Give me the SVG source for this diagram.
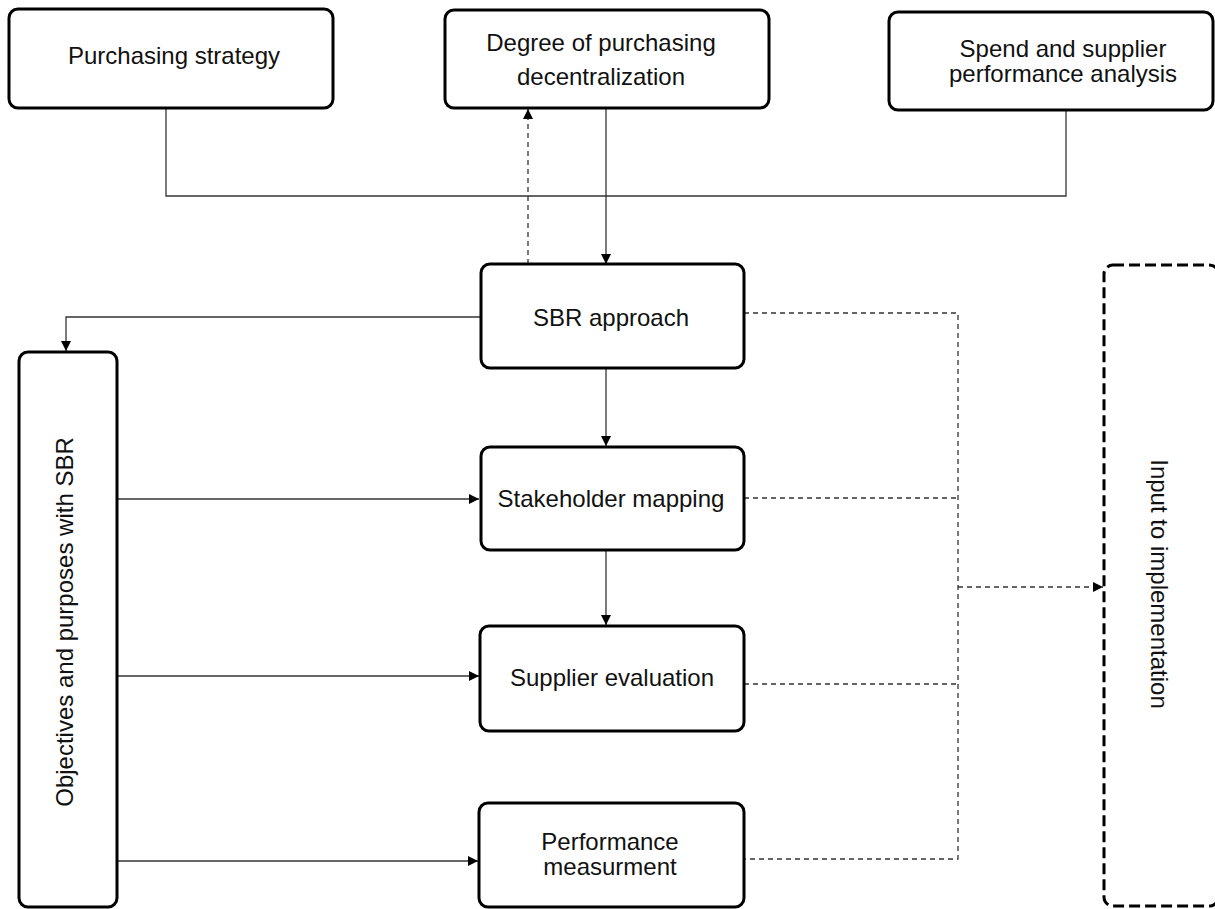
<svg xmlns="http://www.w3.org/2000/svg" width="1215" height="909" viewBox="0 0 1215 909">
<defs>
<style>
.box{fill:#fff;stroke:#000;stroke-width:3}
.dbox{fill:#fff;stroke:#000;stroke-width:3;stroke-dasharray:11 5}
.t{font-family:"Liberation Sans",Arial,sans-serif;font-size:24px;fill:#111;text-anchor:middle}
.c{fill:none;stroke:#333;stroke-width:1.3}
.d{fill:none;stroke:#333;stroke-width:1.3;stroke-dasharray:5 4}
</style>
<marker id="ah" viewBox="0 0 10 10" refX="10" refY="5" markerWidth="10" markerHeight="10" markerUnits="userSpaceOnUse" orient="auto">
<path d="M0,0 L10,5 L0,10 z" fill="#000"/>
</marker>
</defs>
<rect width="1215" height="909" fill="#fff"/>
<g id="connectors">
<path class="c" d="M166,108 V196 H1066 V110"/>
<path class="c" d="M606,108 V264" marker-end="url(#ah)"/>
<path class="d" d="M528,264 V109" marker-end="url(#ah)"/>
<path class="c" d="M480,317 H66 V351" marker-end="url(#ah)"/>
<path class="c" d="M606,368 V446" marker-end="url(#ah)"/>
<path class="c" d="M606,550 V625" marker-end="url(#ah)"/>
<path class="c" d="M117,499 H479" marker-end="url(#ah)"/>
<path class="c" d="M117,676 H479" marker-end="url(#ah)"/>
<path class="c" d="M117,861 H478" marker-end="url(#ah)"/>
<path class="d" d="M744,313 H958 V859 H744"/>
<path class="d" d="M744,498 H958"/>
<path class="d" d="M744,684 H958"/>
<path class="d" d="M958,587 H1103" marker-end="url(#ah)"/>
</g>
<g id="purchasing-strategy">
<rect class="box" x="9" y="9" width="324" height="99" rx="9"/>
<text class="t" x="174" y="64">Purchasing strategy</text>
</g>
<g id="degree-decentralization">
<rect class="box" x="445" y="10" width="324" height="98" rx="9"/>
<text class="t" x="601" y="51">Degree of purchasing</text>
<text class="t" x="601" y="85">decentralization</text>
</g>
<g id="spend-analysis">
<rect class="box" x="889" y="12" width="324" height="98" rx="9"/>
<text class="t" x="1063" y="57">Spend and supplier</text>
<text class="t" x="1063" y="82">performance analysis</text>
</g>
<g id="sbr-approach">
<rect class="box" x="481" y="264" width="263" height="104" rx="9"/>
<text class="t" x="611" y="326">SBR approach</text>
</g>
<g id="stakeholder-mapping">
<rect class="box" x="481" y="447" width="263" height="103" rx="9"/>
<text class="t" x="611" y="507">Stakeholder mapping</text>
</g>
<g id="supplier-evaluation">
<rect class="box" x="480" y="626" width="264" height="105" rx="9"/>
<text class="t" x="612" y="686">Supplier evaluation</text>
</g>
<g id="performance-measurement">
<rect class="box" x="479" y="803" width="265" height="104" rx="9"/>
<text class="t" x="610" y="850">Performance</text>
<text class="t" x="610" y="875">measurment</text>
</g>
<g id="objectives">
<rect class="box" x="19" y="352" width="98" height="555" rx="9"/>
<text class="t" x="73" y="622" transform="rotate(-90 73 622)">Objectives and purposes with SBR</text>
</g>
<g id="input-implementation">
<rect class="dbox" x="1104" y="265" width="114" height="641" rx="9"/>
<text class="t" x="1151" y="584" transform="rotate(90 1151 584)">Input to implementation</text>
</g>
</svg>
